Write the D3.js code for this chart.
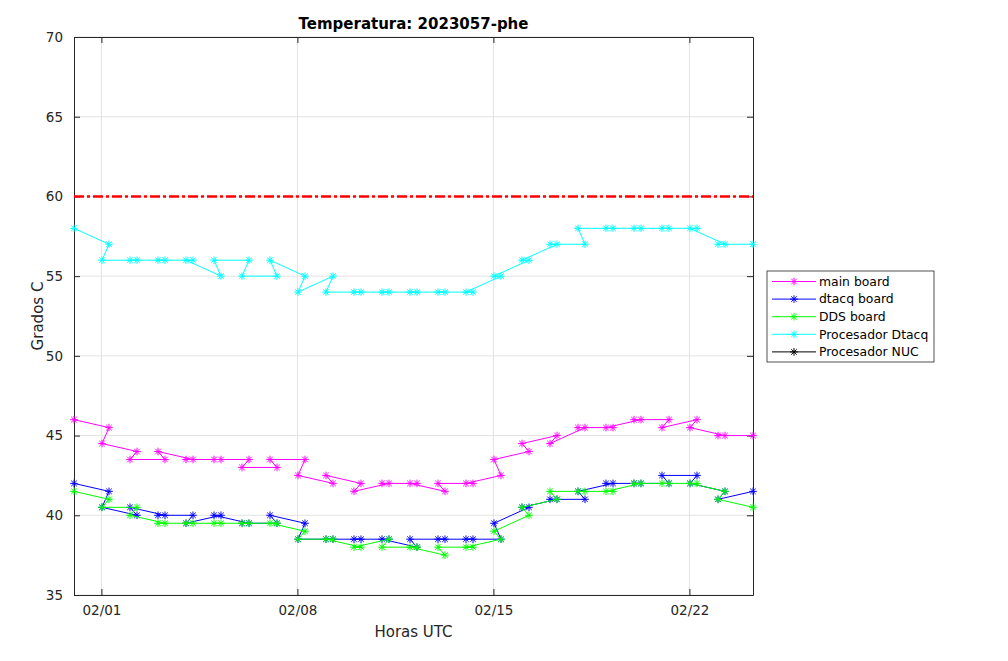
<!DOCTYPE html>
<html>
<head>
<meta charset="utf-8">
<script src="https://cdn.jsdelivr.net/npm/d3@7"></script>
<style>
  body { margin: 0; background: #fff; }
  svg { font-family: "DejaVu Sans", sans-serif; }
</style>
</head>
<body>
<div id="chart"></div>
<script>
// sample times, in the order the file lists them
var times = [
  "2023-01-31 00:30",
  "2023-02-01 06:30", "2023-02-01 00:30",
  "2023-02-02 06:30", "2023-02-02 00:30",
  "2023-02-03 06:30", "2023-02-03 00:30",
  "2023-02-04 06:30", "2023-02-04 00:30",
  "2023-02-05 06:30", "2023-02-05 00:30",
  "2023-02-06 06:30", "2023-02-06 00:30",
  "2023-02-07 06:30", "2023-02-07 00:30",
  "2023-02-08 06:30", "2023-02-08 00:30",
  "2023-02-09 06:30", "2023-02-09 00:30",
  "2023-02-10 06:30", "2023-02-10 00:30",
  "2023-02-11 06:30", "2023-02-11 00:30",
  "2023-02-12 06:30", "2023-02-12 00:30",
  "2023-02-13 06:30", "2023-02-13 00:30",
  "2023-02-14 06:30", "2023-02-14 00:30",
  "2023-02-15 06:30", "2023-02-15 00:30",
  "2023-02-16 06:30", "2023-02-16 00:30",
  "2023-02-17 06:30", "2023-02-17 00:30",
  "2023-02-18 06:30", "2023-02-18 00:30",
  "2023-02-19 06:30", "2023-02-19 00:30",
  "2023-02-20 06:30", "2023-02-20 00:30",
  "2023-02-21 06:30", "2023-02-21 00:30",
  "2023-02-22 06:30", "2023-02-22 00:30",
  "2023-02-23 06:30", "2023-02-23 00:30",
  "2023-02-24 06:30"
];

var mainBoard = [46,
  45.5, 44.5, 44, 43.5, 43.5, 44, 43.5, 43.5, 43.5, 43.5, 43.5, 43,
  43, 43.5, 43.5, 42.5, 42, 42.5, 42, 41.5, 42, 42, 42, 42,
  41.5, 42, 42, 42, 42.5, 43.5, 44, 44.5, 45, 44.5, 45.5, 45.5,
  45.5, 45.5, 46, 46, 46, 45.5, 46, 45.5, 45, 45,
  45];
var dtacqBoard = [42,
  41.5, 40.5, 40, 40.5, 40, 40, 40, 39.5, 40, 40, 39.5, 39.5,
  39.5, 40, 39.5, 38.5, 38.5, 38.5, 38.5, 38.5, 38.5, 38.5, 38, 38.5,
  38.5, 38.5, 38.5, 38.5, 38.5, 39.5, 40.5, 40.5, 41, 41, 41, 41.5,
  42, 42, 42, 42, 42, 42.5, 42.5, 42, 41.5, 41,
  41.5];
var ddsBoard = [41.5,
  41, 40.5, 40.5, 40, 39.5, 39.5, 39.5, 39.5, 39.5, 39.5, 39.5, 39.5,
  39.5, 39.5, 39, 38.5, 38.5, 38.5, 38, 38, 38.5, 38, 38, 38,
  37.5, 38, 38, 38, 38.5, 39, 40, 40.5, 41, 41.5, 41.5, 41.5,
  41.5, 41.5, 42, 42, 42, 42, 42, 42, 41.5, 41,
  40.5];
var procDtacq = [58,
  57, 56, 56, 56, 56, 56, 56, 56, 55, 56, 56, 55,
  55, 56, 55, 54, 55, 54, 54, 54, 54, 54, 54, 54,
  54, 54, 54, 54, 55, 55, 56, 56, 57, 57, 57, 58,
  58, 58, 58, 58, 58, 58, 58, 58, 57, 57,
  57];
var procNuc = [];

var seriesNames = ["main board", "dtacq board", "DDS board", "Procesador Dtacq", "Procesador NUC"];
var seriesColors = ["#ff00ff", "#0000ff", "#00ff00", "#00ffff", "#000000"];
var seriesValues = [mainBoard, dtacqBoard, ddsBoard, procDtacq, procNuc];

var limit = 60;
var yTicks = [35, 40, 45, 50, 55, 60, 65, 70];
var xTicks = ["2023-02-01 00:00", "2023-02-08 00:00", "2023-02-15 00:00", "2023-02-22 00:00"];

var chart = (function () {
  var width = 1008,
      height = 661,
      margin = {top: 37, right: 255, bottom: 66, left: 74};
  return {
    width: width,
    height: height,
    margin: margin,
    innerW: width - margin.left - margin.right,
    innerH: height - margin.top - margin.bottom
  };
})();

var parse = d3.timeParse("%Y-%m-%d %H:%M");
var dates = times.map(parse);

var x = d3.scaleTime()
  .domain(d3.extent(dates))
  .range([0, chart.innerW]);
var y = d3.scaleLinear()
  .domain([35, 70])
  .range([chart.innerH, 0]);

var axisColor = "#262626",
    gridColor = "#e3e3e3",
    fontSize = 13.5;

var svg = d3.select("#chart")
  .append("svg")
    .attr("width", chart.width)
    .attr("height", chart.height);

svg.append("rect")
  .attr("width", chart.width)
  .attr("height", chart.height)
  .attr("fill", "#fff");

var g = svg.append("g")
  .attr("transform", "translate(" + chart.margin.left + "," + chart.margin.top + ")");

// grid
g.selectAll("line.gx")
  .data(xTicks.map(parse))
  .enter().append("line")
    .attr("x1", function (d) { return x(d); })
    .attr("x2", function (d) { return x(d); })
    .attr("y1", 0)
    .attr("y2", chart.innerH)
    .attr("stroke", gridColor);
g.selectAll("line.gy")
  .data(yTicks)
  .enter().append("line")
    .attr("x1", 0)
    .attr("x2", chart.innerW)
    .attr("y1", function (d) { return y(d); })
    .attr("y2", function (d) { return y(d); })
    .attr("stroke", gridColor);

// axes, ticks inward on all four sides
var fmt = d3.timeFormat("%m/%d");
function styleAxis(sel, noText) {
  sel.select(".domain").attr("stroke", axisColor);
  sel.selectAll(".tick line").attr("stroke", axisColor);
  sel.selectAll(".tick text")
    .attr("fill", axisColor)
    .style("font-size", fontSize + "px")
    .style("font-family", "DejaVu Sans, sans-serif");
  if (noText) sel.selectAll(".tick text").remove();
}

g.append("g")
  .attr("transform", "translate(0," + chart.innerH + ")")
  .call(d3.axisBottom(x).tickValues(xTicks.map(parse)).tickFormat(fmt).tickSizeInner(-6).tickSizeOuter(0).tickPadding(10))
  .call(styleAxis);
g.append("g")
  .call(d3.axisTop(x).tickValues(xTicks.map(parse)).tickSizeInner(-6).tickSizeOuter(0))
  .call(styleAxis, true);
g.append("g")
  .call(d3.axisLeft(y).tickValues(yTicks).tickSizeInner(-6).tickSizeOuter(0).tickPadding(11))
  .call(styleAxis);
g.append("g")
  .attr("transform", "translate(" + chart.innerW + ",0)")
  .call(d3.axisRight(y).tickValues(yTicks).tickSizeInner(-6).tickSizeOuter(0))
  .call(styleAxis, true);

// limit line
g.append("line")
  .attr("x1", 0)
  .attr("x2", chart.innerW)
  .attr("y1", y(limit))
  .attr("y2", y(limit))
  .attr("stroke", "#ff0000")
  .attr("stroke-width", 2.5)
  .attr("stroke-dasharray", "10,3,3,3");

// asterisk marker like matlab '*'
function star(r) {
  var k = r * 0.72;
  return "M0," + (-r) + "V" + r + "M" + (-r) + ",0H" + r +
    "M" + (-k) + "," + (-k) + "L" + k + "," + k +
    "M" + (-k) + "," + k + "L" + k + "," + (-k);
}

var line = d3.line()
  .x(function (d) { return x(d.t); })
  .y(function (d) { return y(d.v); });

var series = seriesNames.map(function (name, i) {
  return {
    name: name,
    color: seriesColors[i],
    points: seriesValues[i].map(function (v, j) { return {t: dates[j], v: v}; })
  };
});

var sg = g.selectAll("g.series")
  .data(series)
  .enter().append("g")
    .classed("series", true);

sg.append("path")
  .attr("d", function (s) { return line(s.points); })
  .attr("fill", "none")
  .attr("stroke", function (s) { return s.color; })
  .attr("stroke-width", 1);

sg.selectAll("path.mk")
  .data(function (s) { return s.points.map(function (p) { return {p: p, color: s.color}; }); })
  .enter().append("path")
    .classed("mk", true)
    .attr("d", star(3.8))
    .attr("transform", function (d) { return "translate(" + x(d.p.t) + "," + y(d.p.v) + ")"; })
    .attr("fill", "none")
    .attr("stroke", function (d) { return d.color; })
    .attr("stroke-width", 1);

// labels
svg.append("text")
  .attr("x", chart.margin.left + chart.innerW / 2)
  .attr("y", 29)
  .attr("text-anchor", "middle")
  .attr("font-weight", "bold")
  .style("font-size", "15px")
  .attr("fill", "#000")
  .text("Temperatura: 2023057-phe");

svg.append("text")
  .attr("x", chart.margin.left + chart.innerW / 2)
  .attr("y", 637)
  .attr("text-anchor", "middle")
  .style("font-size", "15px")
  .attr("fill", axisColor)
  .text("Horas UTC");

svg.append("text")
  .attr("transform", "translate(43," + (chart.margin.top + chart.innerH / 2) + ") rotate(-90)")
  .attr("text-anchor", "middle")
  .style("font-size", "15px")
  .attr("fill", axisColor)
  .text("Grados C");

// legend
var leg = svg.append("g")
  .attr("transform", "translate(767,271)");
leg.append("rect")
  .attr("width", 167)
  .attr("height", 91)
  .attr("fill", "#fff")
  .attr("stroke", axisColor)
  .attr("stroke-width", 0.8);

var row = leg.selectAll("g.row")
  .data(series)
  .enter().append("g")
    .classed("row", true)
    .attr("transform", function (s, i) { return "translate(0," + (10.5 + i * 17.6) + ")"; });
row.append("line")
  .attr("x1", 5)
  .attr("x2", 49)
  .attr("stroke", function (s) { return s.color; });
row.append("path")
  .attr("d", star(3.8))
  .attr("transform", "translate(27,0)")
  .attr("fill", "none")
  .attr("stroke", function (s) { return s.color; });
row.append("text")
  .attr("x", 52)
  .attr("dy", "0.35em")
  .style("font-size", "12.4px")
  .attr("fill", "#000")
  .text(function (s) { return s.name; });
</script>
</body>
</html>
